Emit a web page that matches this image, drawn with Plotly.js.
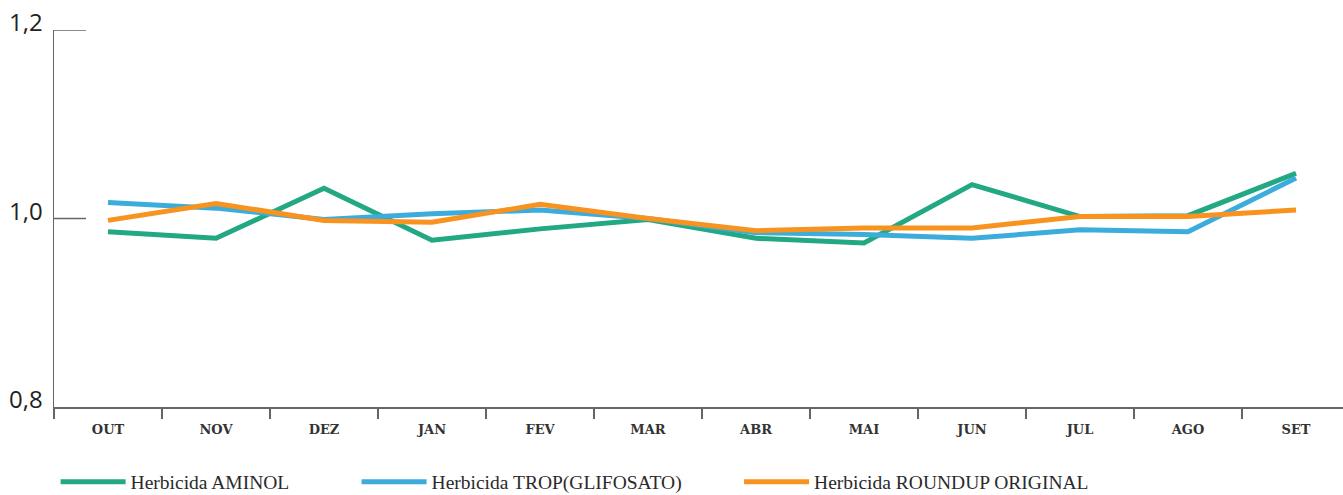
<!DOCTYPE html>
<html>
<head>
<meta charset="utf-8">
<script src="https://cdn.plot.ly/plotly-3.0.1.min.js"></script>
<style>html,body{margin:0;padding:0;background:#fff;}#chart{width:1343px;height:495px;}</style>
</head>
<body>
<div id="chart"></div>
<script>
const months = ["OUT","NOV","DEZ","JAN","FEV","MAR","ABR","MAI","JUN","JUL","AGO","SET"];
const aminol = [0.986,0.979,1.032,0.977,0.989,0.999,0.979,0.974,1.036,1.002,1.003,1.048];
const trop = [1.017,1.011,0.999,1.005,1.009,1.000,0.985,0.983,0.979,0.988,0.986,1.043];
const roundup = [0.998,1.016,0.998,0.996,1.015,1.000,0.987,0.990,0.990,1.002,1.002,1.009];
const names = ["Herbicida AMINOL","Herbicida TROP(GLIFOSATO)","Herbicida ROUNDUP ORIGINAL"];
const colors = ["#23A884","#3BACDC","#F7931E"];
const yTicks = [0.8,1.0,1.2];

const series = [aminol, trop, roundup];
const legendIds = ["legend","legend2","legend3"];
const traces = series.map((s,i)=>({
  type:"scatter", mode:"lines", x:months, y:s, name:names[i],
  line:{color:colors[i], width:5}, legend:legendIds[i], hoverinfo:"skip"
}));

const legFont = {family:"Liberation Serif, serif", size:19.5, color:"#2a2a2a"};
function leg(x, w){
  return {orientation:"h", xref:"container", yref:"container", x:x, y:0.026,
    xanchor:"left", yanchor:"middle", font:legFont, itemwidth:w,
    bgcolor:"rgba(0,0,0,0)", borderwidth:0};
}

// inner tick marks on the y axis, placed at the tick values
const tickShapes = yTicks.filter(v=>v>0.8).map(v=>({
  type:"line", xref:"paper", yref:"y", x0:0, x1:32/1289, y0:v, y1:v,
  line:{color:"#666", width:1.5}, layer:"above"
}));

const layout = {
  width:1343, height:495,
  margin:{l:54, r:0, t:30, b:88},
  paper_bgcolor:"#fff", plot_bgcolor:"#fff",
  separators:",.",
  showlegend:true,
  legend: leg(0.0414, 65),
  legend2: leg(0.2655, 65),
  legend3: leg(0.5503, 65),
  shapes: tickShapes,
  xaxis:{
    type:"category", range:[-0.5, 11.435], showgrid:false, zeroline:false,
    showline:true, linecolor:"#666", linewidth:1.5,
    ticks:"outside", tickson:"boundaries", ticklen:10, tickcolor:"#666", tickwidth:1.5,
    tickfont:{family:"DejaVu Serif, serif", size:13, color:"#333", weight:"bold"},
    ticklabelstandoff:10,
    fixedrange:true
  },
  yaxis:{
    range:[0.8,1.2], tickvals:yTicks, tickformat:".1f",
    showgrid:false, zeroline:false,
    showline:true, linecolor:"#666", linewidth:1.5,
    ticks:"",
    tickfont:{family:"Open Sans, sans-serif", size:24, color:"#222"},
    ticklabelstandoff:5, ticklabelshift:-7,
    fixedrange:true
  }
};
Plotly.newPlot("chart", traces, layout, {displayModeBar:false, staticPlot:true});
</script>
</body>
</html>
